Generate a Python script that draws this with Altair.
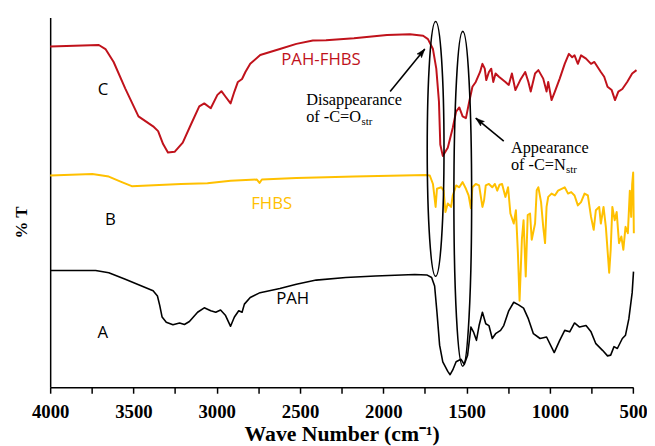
import altair as alt
import pandas as pd

# ---------------- data (wave number cm-1, %T in arbitrary plot units) ----------------
PAH_FHBS = [
    (4000, 92.2), (3708, 92.6), (3668, 91.5), (3619, 88.0), (3549, 80.8), (3470, 73.3),
    (3382, 70.6), (3352, 69.3), (3322, 65.8), (3293, 63.5), (3253, 63.7), (3204, 66.2),
    (3155, 71.1), (3105, 76.0), (3075, 76.8), (3036, 75.5), (2996, 79.1), (2972, 80.1),
    (2947, 78.6), (2917, 76.8), (2894, 80.0), (2873, 82.6), (2848, 83.4), (2828, 85.3),
    (2799, 87.5), (2739, 89.9), (2621, 91.5), (2522, 92.9), (2423, 93.8), (2344, 93.9),
    (2176, 94.4), (1978, 95.3), (1840, 95.5), (1761, 95.1), (1732, 94.2), (1702, 91.5),
    (1682, 86.2), (1666, 77.3), (1658, 65.7), (1643, 62.6), (1613, 64.8), (1583, 70.2),
    (1563, 74.6), (1544, 75.7), (1524, 73.3), (1504, 72.8), (1484, 77.3), (1465, 81.3),
    (1445, 82.6), (1419, 85.3), (1405, 87.5), (1391, 86.2), (1382, 83.1), (1366, 85.3),
    (1352, 86.2), (1340, 82.6), (1326, 84.9), (1306, 84.0), (1267, 82.6), (1247, 81.8),
    (1228, 84.9), (1207, 80.4), (1178, 83.1), (1148, 85.3), (1129, 82.6), (1115, 80.0),
    (1089, 84.9), (1069, 85.8), (1040, 83.5), (1020, 80.0), (1010, 82.6), (990, 77.7),
    (970, 80.0), (941, 83.5), (911, 87.5), (886, 90.2), (866, 89.3), (852, 89.8),
    (832, 87.5), (813, 89.8), (783, 88.9), (753, 87.5), (733, 88.0), (694, 85.3),
    (674, 84.0), (654, 81.3), (629, 80.4), (609, 77.7), (589, 80.0), (565, 80.7),
    (536, 82.6), (506, 84.9), (480, 85.8),
]

FHBS = [
    (4000, 57.3), (3747, 57.7), (3648, 57.0), (3570, 55.5), (3510, 54.4), (3411, 54.6),
    (3214, 55.0), (3056, 55.2), (2917, 55.9), (2759, 56.2), (2743, 55.3), (2729, 56.2),
    (2522, 56.6), (2344, 56.8), (2176, 57.0), (1741, 57.4), (1721, 57.3), (1702, 55.0),
    (1686, 48.8), (1678, 53.7), (1652, 54.1), (1638, 53.2), (1627, 47.4), (1613, 49.7),
    (1593, 48.8), (1583, 51.9), (1563, 54.6), (1544, 54.1), (1524, 55.5), (1504, 53.7),
    (1488, 51.9), (1474, 48.4), (1465, 54.1), (1445, 55.0), (1425, 54.6), (1405, 48.8),
    (1395, 50.6), (1385, 54.6), (1366, 55.0), (1346, 54.1), (1330, 55.0), (1316, 53.2),
    (1302, 54.8), (1287, 55.0), (1267, 51.5), (1251, 54.1), (1237, 47.0), (1217, 44.3),
    (1204, 47.9), (1192, 36.3), (1182, 23.4), (1168, 40.1), (1158, 45.2), (1145, 30.0),
    (1133, 46.6), (1119, 47.0), (1109, 39.9), (1089, 44.3), (1079, 53.3), (1069, 54.1),
    (1053, 50.1), (1040, 43.4), (1029, 39.0), (1020, 48.8), (1010, 51.5), (990, 52.4),
    (970, 51.9), (951, 53.2), (911, 54.1), (891, 52.4), (872, 52.8), (852, 51.9),
    (832, 49.2), (813, 50.1), (792, 52.4), (772, 51.9), (753, 46.1), (737, 42.6),
    (724, 47.9), (704, 48.8), (694, 44.3), (678, 48.8), (664, 43.4), (644, 31.0),
    (635, 37.2), (625, 48.8), (611, 45.2), (599, 47.4), (585, 39.0), (571, 40.8),
    (559, 37.2), (546, 43.4), (532, 41.7), (520, 53.2), (512, 46.1), (506, 55.0),
    (500, 58.1), (496, 41.7),
]

PAH = [
    (4000, 31.6), (3727, 31.6), (3648, 31.0), (3549, 29.2), (3451, 27.4), (3382, 26.1),
    (3356, 24.7), (3342, 22.1), (3328, 19.0), (3303, 17.6), (3263, 16.9), (3223, 17.4),
    (3194, 17.0), (3164, 17.8), (3115, 20.3), (3075, 21.5), (3036, 20.7), (3006, 20.3),
    (2977, 20.9), (2947, 19.4), (2917, 16.5), (2894, 19.0), (2868, 20.7), (2848, 20.3),
    (2834, 22.5), (2799, 24.3), (2740, 25.6), (2621, 26.7), (2522, 27.9), (2403, 29.0),
    (2225, 29.7), (2048, 30.1), (1811, 30.5), (1739, 30.4), (1710, 29.7), (1692, 27.4),
    (1678, 20.3), (1662, 11.4), (1643, 6.9), (1613, 4.3), (1599, 3.4), (1583, 4.7),
    (1563, 6.9), (1534, 7.6), (1514, 6.2), (1494, 8.7), (1474, 16.3), (1459, 15.0),
    (1441, 12.7), (1425, 16.7), (1405, 20.3), (1385, 17.2), (1366, 16.7), (1346, 13.2),
    (1326, 14.5), (1296, 15.4), (1277, 16.7), (1247, 20.7), (1217, 23.0), (1188, 22.3),
    (1158, 21.4), (1129, 18.5), (1099, 14.5), (1059, 13.2), (1020, 13.6), (974, 9.4),
    (941, 12.7), (911, 15.4), (881, 15.0), (852, 17.4), (822, 16.3), (783, 16.7),
    (753, 15.0), (724, 11.8), (684, 10.0), (654, 8.5), (635, 8.7), (615, 11.0),
    (595, 10.5), (565, 13.2), (546, 14.1), (526, 18.5), (506, 25.6), (498, 31.3),
]

X_TICKS = list(range(500, 4001, 250))

# annotation anchors (data coordinates)
ELLIPSE_CO = (1686, 64.5)
ELLIPSE_CN = (1523, 51.0)
ARROW_CO = (1959, 80.0, 1751, 91.5)
ARROW_CN = (1277, 66.6, 1445, 72.8)

RED = "#C0121B"
GOLD = "#FFC000"
SANS = "Open Sans"
SERIF = "Liberation Serif"

W, H = 590.3, 374.3

xs = alt.Scale(domain=[4000, 500], nice=False, zero=False)
ys = alt.Scale(domain=[0, 100], nice=False, zero=False)

X_TITLE = "Wave Number (cm\u207b\u00b9)"
Y_TITLE = "% T"

x_axis = alt.Axis(
    values=X_TICKS,
    labelExpr="datum.value % 500 == 0 ? format(datum.value, 'd') : ''",
    labelFlush=False, labelOverlap=False, labelPadding=10, labelBaseline="top",
    titleY=47, titleBaseline="middle",
)
y_axis = alt.Axis(
    ticks=False, labels=False,
    titleX=-29, titleY=207, titleBaseline="middle", titleAlign="center", titleAngle=270,
)


def X(field):
    return alt.X(field, scale=xs, axis=x_axis, title=X_TITLE)


def Y(field):
    return alt.Y(field, scale=ys, axis=y_axis, title=Y_TITLE)


def series_df(pairs):
    return pd.DataFrame(pairs, columns=["wn", "t"])


def line(pairs, color, sw):
    return alt.Chart(series_df(pairs)).mark_line(
        color=color, strokeWidth=sw, strokeJoin="round"
    ).encode(x=X("wn:Q"), y=Y("t:Q"), order="wn:Q")


def ellipse_path(rx):
    k = 0.5523
    return (f"M0,-1 C{k*rx:.4f},-1 {rx:.4f},{-k} {rx:.4f},0 "
            f"C{rx:.4f},{k} {k*rx:.4f},1 0,1 "
            f"C{-k*rx:.4f},1 {-rx:.4f},{k} {-rx:.4f},0 "
            f"C{-rx:.4f},{-k} {-k*rx:.4f},-1 0,-1 Z")


def ellipse(center, height_px, width_px):
    d = pd.DataFrame([center], columns=["wn", "t"])
    return alt.Chart(d).mark_point(
        shape=ellipse_path(width_px / height_px), size=height_px ** 2,
        filled=False, stroke="black", strokeWidth=1.6, opacity=1,
    ).encode(x=X("wn:Q"), y=Y("t:Q"))


def arrow(spec, angle):
    x0, y0, x1, y1 = spec
    d = pd.DataFrame([{"wn": x0, "t": y0, "wn2": x1, "t2": y1}])
    shaft = alt.Chart(d).mark_rule(color="black", strokeWidth=1.6).encode(
        x=X("wn:Q"), y=Y("t:Q"), x2="wn2:Q", y2="t2:Q")
    head = alt.Chart(d).mark_point(
        shape="M0,0 L-0.5,1.5 L0,1.2 L0.5,1.5 Z", size=140, filled=True,
        fill="black", stroke="black", strokeWidth=0.5, opacity=1, angle=angle,
    ).encode(x=X("wn2:Q"), y=Y("t2:Q"))
    return shaft + head


def label(text, wn, t, color="black", font=SANS, size=17, align="center"):
    d = pd.DataFrame([{"wn": wn, "t": t, "txt": text}])
    return alt.Chart(d).mark_text(
        color=color, font=font, fontSize=size, align=align, baseline="middle",
    ).encode(x=X("wn:Q"), y=Y("t:Q"), text="txt:N")


layers = [
    line(PAH, "black", 1.6),
    line(FHBS, GOLD, 2.0),
    line(PAH_FHBS, RED, 2.0),
    ellipse(ELLIPSE_CO, 258, 17),
    ellipse(ELLIPSE_CN, 339, 18),
    arrow(ARROW_CO, 39),
    arrow(ARROW_CN, 309.5),
    label("C", 3682, 80.4),
    label("PAH-FHBS", 2374, 88.5, color=RED),
    label("B", 3638, 45.2),
    label("FHBS", 2670, 49.7, color=GOLD),
    label("A", 3684, 14.8),
    label("PAH", 2544, 23.9),
    label("Disappearance", 2463, 77.6, font=SERIF, size=16.5, align="left"),
    label("of -C=O", 2463, 73.0, font=SERIF, size=16.5, align="left"),
    label("str", 2131, 71.8, font=SERIF, size=11, align="left"),
    label("Appearance", 1234, 64.7, font=SERIF, size=16.5, align="left"),
    label("of -C=N", 1234, 60.2, font=SERIF, size=16.5, align="left"),
    label("str", 903, 58.8, font=SERIF, size=11, align="left"),
]

chart = alt.layer(*layers).properties(
    width=W, height=H,
    autosize=alt.AutoSizeParams(type="none"),
    padding={"left": 42.7, "top": 7, "right": 14, "bottom": 58},
    background="white",
).configure_view(
    stroke=None
).configure_axis(
    grid=False, domainColor="black", domainWidth=1.5,
    titleFont=SERIF, titleFontWeight="bold", titleColor="black",
).configure_axisX(
    tickColor="black", tickWidth=1.5, tickSize=6,
    labelFont=SERIF, labelFontWeight="bold", labelFontSize=19, labelColor="black",
    titleFontSize=22,
).configure_axisY(
    titleFontSize=17,
)

chart.save("out.html", embed_options={"renderer": "svg", "actions": False})
